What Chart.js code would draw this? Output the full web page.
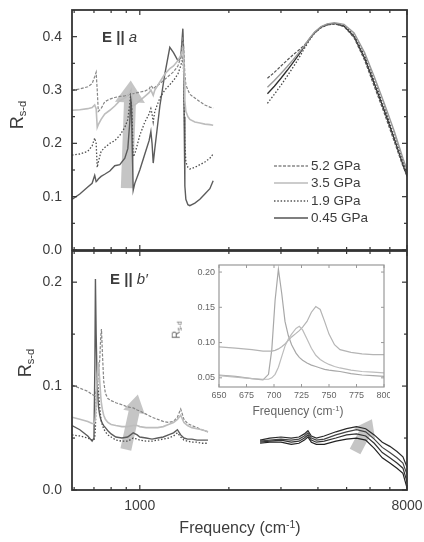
<!DOCTYPE html>
<html><head><meta charset="utf-8">
<script src="https://cdn.jsdelivr.net/npm/chart.js@4.4.1/dist/chart.umd.min.js"></script>
<style>
html,body{margin:0;padding:0;background:#fff;}
#wrap{position:relative;width:424px;height:542px;overflow:hidden;font-family:"Liberation Sans",Arial,sans-serif;color:#3c3c3c;}
canvas{position:absolute;}
.t{position:absolute;white-space:nowrap;line-height:1;}
.rot{transform:translate(-50%,-50%) rotate(-90deg);}
.leg{position:absolute;left:274px;width:120px;height:14px;white-space:nowrap;}
.leg svg{position:absolute;left:0;top:4px;}
.leg span{position:absolute;left:37px;top:0;font-size:13.5px;line-height:14px;white-space:nowrap;}
sub{font-size:62%;vertical-align:-0.25em;}
sup{font-size:65%;vertical-align:0.55em;}
</style></head>
<body><div id="wrap">
<canvas id="cTop" width="424" height="262" style="left:0px;top:0px"></canvas>
<canvas id="cBot" width="424" height="297" style="left:0px;top:245px"></canvas>
<canvas id="cIn" width="225" height="165" style="left:165px;top:258px"></canvas>

<div class="t rot" style="left:18px;top:115px;font-size:18px;">R<sub>s-d</sub></div>
<div class="t rot" style="left:26px;top:363px;font-size:18px;">R<sub>s-d</sub></div>
<div class="t" style="left:102px;top:29px;font-size:15px;"><b>E</b> <b>||</b> <i>a</i></div>
<div class="t" style="left:110px;top:271px;font-size:15px;"><b>E</b> <b>||</b> <i>b′</i></div>
<div class="t" style="left:240px;top:528px;font-size:16px;transform:translate(-50%,-50%);">Frequency (cm<sup>-1</sup>)</div>
<div class="t" style="left:298px;top:411px;font-size:12px;transform:translate(-50%,-50%);color:#666;">Frequency (cm<sup>-1</sup>)</div>
<div class="t rot" style="left:177px;top:330px;font-size:11px;color:#666;">R<sub>s-d</sub></div>

<div class="leg" style="top:159px"><svg width="34" height="6"><line x1="0" y1="3" x2="34" y2="3" stroke="#888" stroke-width="1.3" stroke-dasharray="3,1.5"/></svg><span>5.2 GPa</span></div>
<div class="leg" style="top:176px"><svg width="34" height="6"><line x1="0" y1="3" x2="34" y2="3" stroke="#bbb" stroke-width="1.7"/></svg><span>3.5 GPa</span></div>
<div class="leg" style="top:194px"><svg width="34" height="6"><line x1="0" y1="3" x2="34" y2="3" stroke="#555" stroke-width="1.3" stroke-dasharray="1.5,1.8"/></svg><span>1.9 GPa</span></div>
<div class="leg" style="top:211px"><svg width="34" height="6"><line x1="0" y1="3" x2="34" y2="3" stroke="#555" stroke-width="1.6"/></svg><span>0.45 GPa</span></div>
</div>
<script>
// ---------------- DATA ----------------
const topLowFreq = [590,627,667,690,704,712,718,724,740,761,792,823,856,890,911,925,935,942,950,962,1000,1040,1075,1090,1100,1110,1124,1169,1215,1263,1300,1345,1375,1398,1405,1412,1420,1431,1454,1476,1535,1596,1659,1725,1770];
const topLow045 = [0.095,0.105,0.118,0.125,0.140,0.128,0.130,0.133,0.138,0.142,0.148,0.158,0.160,0.172,0.190,0.240,0.300,0.200,0.112,0.125,0.150,0.180,0.205,0.222,0.200,0.163,0.190,0.270,0.330,0.380,0.370,0.355,0.360,0.415,0.380,0.250,0.120,0.095,0.085,0.083,0.088,0.095,0.105,0.115,0.130];
const topLow19 = [0.178,0.180,0.185,0.195,0.210,0.200,0.155,0.165,0.185,0.192,0.200,0.205,0.215,0.230,0.245,0.275,0.300,0.250,0.175,0.180,0.215,0.240,0.255,0.265,0.255,0.240,0.260,0.285,0.300,0.310,0.318,0.330,0.345,0.360,0.340,0.280,0.200,0.165,0.155,0.152,0.155,0.160,0.165,0.172,0.180];
const topLow35 = [0.262,0.263,0.265,0.267,0.272,0.265,0.230,0.235,0.245,0.255,0.262,0.270,0.280,0.285,0.290,0.295,0.300,0.285,0.270,0.272,0.280,0.288,0.295,0.300,0.295,0.290,0.300,0.315,0.330,0.340,0.345,0.355,0.365,0.375,0.360,0.320,0.280,0.260,0.250,0.245,0.240,0.238,0.236,0.235,0.234];
const topLow52 = [0.299,0.302,0.306,0.312,0.325,0.333,0.300,0.260,0.265,0.278,0.283,0.286,0.288,0.289,0.290,0.292,0.293,0.293,0.293,0.294,0.296,0.298,0.302,0.308,0.306,0.302,0.305,0.312,0.320,0.328,0.334,0.345,0.360,0.400,0.385,0.360,0.330,0.310,0.300,0.292,0.285,0.278,0.272,0.268,0.266];

const topHighFreq = [2700,2850,3000,3150,3300,3450,3600,3750,3900,4100,4300,4550,4900,5300,5750,6200,6700,7250,7750,8000];
const topHigh045 = [0.293,0.307,0.322,0.337,0.352,0.367,0.382,0.396,0.408,0.418,0.423,0.425,0.420,0.400,0.360,0.312,0.262,0.208,0.160,0.138];
const topHigh19 = [0.275,0.292,0.309,0.326,0.343,0.360,0.378,0.394,0.407,0.417,0.422,0.424,0.421,0.403,0.365,0.318,0.268,0.214,0.166,0.145];
const topHigh35 = [0.305,0.318,0.331,0.344,0.357,0.370,0.383,0.397,0.409,0.419,0.424,0.426,0.423,0.407,0.370,0.325,0.275,0.222,0.172,0.150];
const topHigh52 = [0.322,0.333,0.345,0.356,0.366,0.375,0.384,0.396,0.407,0.417,0.422,0.424,0.419,0.398,0.356,0.307,0.257,0.203,0.157,0.140];

const botLowFreq = [590,627,667,690,700,705,708,712,718,725,732,738,742,748,755,765,780,800,830,870,910,950,980,1000,1050,1100,1150,1200,1250,1300,1340,1375,1410,1450,1500,1560,1620,1700];
const botLow045 = [0.062,0.058,0.052,0.047,0.050,0.120,0.203,0.150,0.100,0.080,0.072,0.068,0.066,0.064,0.062,0.060,0.057,0.054,0.051,0.050,0.051,0.055,0.053,0.051,0.050,0.049,0.050,0.051,0.053,0.055,0.058,0.053,0.050,0.049,0.049,0.048,0.048,0.048];
const botLow19 = [0.053,0.052,0.050,0.048,0.048,0.052,0.060,0.090,0.110,0.095,0.080,0.070,0.066,0.062,0.059,0.056,0.053,0.051,0.048,0.047,0.047,0.050,0.049,0.048,0.047,0.047,0.048,0.049,0.050,0.052,0.055,0.051,0.048,0.047,0.046,0.046,0.045,0.045];
const botLow35 = [0.070,0.068,0.066,0.064,0.064,0.066,0.070,0.085,0.110,0.123,0.105,0.090,0.083,0.077,0.072,0.068,0.065,0.063,0.062,0.061,0.061,0.062,0.062,0.061,0.060,0.060,0.060,0.061,0.063,0.065,0.068,0.072,0.065,0.062,0.060,0.059,0.058,0.056];
const botLow52 = [0.101,0.098,0.095,0.092,0.091,0.091,0.092,0.095,0.100,0.112,0.125,0.148,0.155,0.130,0.105,0.093,0.088,0.086,0.084,0.082,0.080,0.079,0.077,0.076,0.073,0.070,0.068,0.066,0.065,0.066,0.070,0.078,0.068,0.064,0.062,0.060,0.058,0.056];

const botHighFreq = [2550,2750,3000,3250,3450,3600,3700,3800,3950,4200,4600,5000,5400,5800,6200,6600,7000,7400,7750,8000];
const botHighA = [0.048,0.050,0.051,0.050,0.051,0.054,0.057,0.052,0.050,0.052,0.056,0.059,0.061,0.059,0.053,0.046,0.042,0.037,0.032,0.022];
const botHighB = [0.047,0.048,0.049,0.048,0.049,0.052,0.055,0.050,0.048,0.049,0.053,0.056,0.058,0.056,0.049,0.041,0.036,0.031,0.026,0.015];
const botHighC = [0.046,0.047,0.048,0.046,0.047,0.050,0.053,0.048,0.046,0.047,0.050,0.053,0.054,0.052,0.045,0.036,0.031,0.026,0.021,0.008];
const botHighD = [0.045,0.046,0.046,0.044,0.045,0.048,0.051,0.046,0.044,0.044,0.047,0.049,0.050,0.048,0.040,0.031,0.026,0.021,0.016,0.002];

const insetFreq = [650,665,680,690,695,698,701,704,707,710,713,716,720,723,726,730,734,738,742,746,750,755,760,770,780,790,800];
const insetA = [0.054,0.052,0.049,0.047,0.055,0.090,0.160,0.204,0.170,0.130,0.110,0.097,0.085,0.079,0.075,0.071,0.068,0.066,0.064,0.062,0.061,0.060,0.059,0.056,0.054,0.053,0.052];
const insetB = [0.094,0.092,0.090,0.088,0.088,0.088,0.089,0.091,0.094,0.098,0.103,0.108,0.113,0.117,0.122,0.130,0.143,0.151,0.147,0.130,0.112,0.097,0.090,0.086,0.084,0.083,0.083];
const insetC = [0.053,0.051,0.049,0.048,0.048,0.050,0.055,0.065,0.080,0.095,0.105,0.112,0.120,0.123,0.118,0.105,0.092,0.082,0.076,0.072,0.069,0.066,0.064,0.061,0.059,0.058,0.057];

const xLabelTicks = [1000, 8000];
const xMinorTicks = [600,700,800,900,2000,3000,4000,5000,6000,7000];
const yTopTicks = [0, 0.1, 0.2, 0.3, 0.4];
const yTopMinor = [0.05, 0.15, 0.25, 0.35];
const yBotTicks = [0, 0.1, 0.2];
const yBotMinor = [0.05, 0.15];
const insetXTicks = [650, 675, 700, 725, 750, 775, 800];
const insetYTicks = [0.05, 0.10, 0.15, 0.20];

// arrow annotations (data units: [frequency, R])
const arrowTop = {from:[904, 0.116], to:[932, 0.318]};
const arrowBotLeft = {from:[897, 0.039], to:[985, 0.092]};
const arrowBotRight = {from:[5340, 0.037], to:[6090, 0.068]};

// ---------------- RENDER ----------------
Chart.defaults.font.family = '"Liberation Sans", Arial, sans-serif';
Chart.defaults.color = '#3c3c3c';

const pts = (f, v) => f.map((x, i) => ({x: x, y: v[i]}));
const ST = {
  p045: {borderColor:'#5c5c5c', borderWidth:1.4},
  p19:  {borderColor:'#4e4e4e', borderWidth:1.3, borderDash:[1.5,1.8]},
  p35:  {borderColor:'#bdbdbd', borderWidth:1.6},
  p52:  {borderColor:'#868686', borderWidth:1.2, borderDash:[3,1.5]},
  h045: {borderColor:'#2e2e2e', borderWidth:1.3},
  h19:  {borderColor:'#444', borderWidth:1.3, borderDash:[1.5,1.8]},
  h35:  {borderColor:'#9a9a9a', borderWidth:1.4},
  h52:  {borderColor:'#555', borderWidth:1.2, borderDash:[3,1.5]},
  dk1:  {borderColor:'#2a2a2a', borderWidth:1.2},
  dk2:  {borderColor:'#444', borderWidth:1.2},
  dk3:  {borderColor:'#333', borderWidth:1.2},
  dk4:  {borderColor:'#222', borderWidth:1.2},
  in1:  {borderColor:'#a8a8a8', borderWidth:1.2},
  in2:  {borderColor:'#b4b4b4', borderWidth:1.2},
  in3:  {borderColor:'#bcbcbc', borderWidth:1.2}
};
const ds = (f, v, s) => Object.assign({data: pts(f, v), pointRadius:0, tension:0, fill:false, spanGaps:false}, s);

const zeroPad = s => { s.paddingLeft = 0; s.paddingRight = 0; s.paddingTop = 0; s.paddingBottom = 0; };

const deco = {
  id: 'deco',
  beforeDatasetsDraw(chart, args, o) {
    const {ctx, chartArea: a, scales} = chart;
    ctx.save();
    if (o.bg) { ctx.fillStyle = o.bg; ctx.fillRect(a.left, a.top, a.width, a.height); }
    (o.arrows || []).forEach(ar => {
      const x0 = scales.x.getPixelForValue(ar.from[0]), y0 = scales.y.getPixelForValue(ar.from[1]);
      const x1 = scales.x.getPixelForValue(ar.to[0]), y1 = scales.y.getPixelForValue(ar.to[1]);
      const dx = x1 - x0, dy = y1 - y0, L = Math.hypot(dx, dy), ux = dx / L, uy = dy / L, nx = -uy, ny = ux;
      const hw = ar.head / 2, sw = ar.shaft / 2, hl = ar.headLen;
      const bx = x1 - ux * hl, by = y1 - uy * hl;
      ctx.beginPath();
      ctx.moveTo(x0 + nx * sw, y0 + ny * sw);
      ctx.lineTo(bx + nx * sw, by + ny * sw);
      ctx.lineTo(bx + nx * hw, by + ny * hw);
      ctx.lineTo(x1, y1);
      ctx.lineTo(bx - nx * hw, by - ny * hw);
      ctx.lineTo(bx - nx * sw, by - ny * sw);
      ctx.lineTo(x0 - nx * sw, y0 - ny * sw);
      ctx.closePath();
      ctx.fillStyle = o.arrowColor;
      ctx.fill();
    });
    ctx.restore();
  },
  afterDatasetsDraw(chart, args, o) {
    const {ctx, chartArea: a, scales} = chart;
    ctx.save();
    ctx.strokeStyle = o.color;
    ctx.lineWidth = o.tickWidth;
    const line = (x0, y0, x1, y1) => { ctx.beginPath(); ctx.moveTo(x0, y0); ctx.lineTo(x1, y1); ctx.stroke(); };
    const xt = (vals, len) => (vals || []).forEach(v => { const p = scales.x.getPixelForValue(v); line(p, a.top, p, a.top + len); line(p, a.bottom, p, a.bottom - len); });
    const yt = (vals, len) => (vals || []).forEach(v => { const p = scales.y.getPixelForValue(v); line(a.left, p, a.left + len, p); line(a.right, p, a.right - len, p); });
    xt(o.xMajor, o.majLen); xt(o.xMinor, o.minLen);
    yt(o.yMajor, o.majLen); yt(o.yMinor, o.minLen);
    ctx.lineWidth = o.frameWidth;
    ctx.strokeRect(a.left, a.top, a.width, a.height);
    ctx.restore();
  }
};

const baseOpts = {
  responsive: false, animation: false, devicePixelRatio: 1,
  events: []
};

// Top panel
new Chart(document.getElementById('cTop'), {
  type: 'line',
  data: {datasets: [
    ds(topLowFreq, topLow35, ST.p35), ds(topLowFreq, topLow52, ST.p52), ds(topLowFreq, topLow19, ST.p19), ds(topLowFreq, topLow045, ST.p045),
    ds(topHighFreq, topHigh35, ST.h35), ds(topHighFreq, topHigh52, ST.h52), ds(topHighFreq, topHigh19, ST.h19), ds(topHighFreq, topHigh045, ST.h045)
  ]},
  options: Object.assign({}, baseOpts, {
    layout: {padding: {left: 0, right: 17, top: 10, bottom: 12}},
    plugins: {legend: {display: false}, tooltip: {enabled: false},
      deco: {color:'#333', tickWidth:1.2, frameWidth:1.8, majLen:5, minLen:3,
        xMajor: xLabelTicks, xMinor: xMinorTicks, yMajor: yTopTicks, yMinor: yTopMinor,
        arrowColor: 'rgba(150,150,150,0.55)',
        arrows: [Object.assign({head:30, shaft:12, headLen:22}, arrowTop)]}},
    scales: {
      x: {type: 'logarithmic', min: 590, max: 8000, display: false},
      y: {type: 'linear', min: 0, max: 0.45,
        afterBuildTicks: s => { s.ticks = yTopTicks.map(v => ({value: v})); },
        afterFit: s => { s.width = 72; zeroPad(s); },
        grid: {display: false, drawTicks: false}, border: {display: false},
        ticks: {padding: 10, font: {size: 14}, color: '#3c3c3c', callback: v => Number(v).toFixed(1)}}
    }
  }),
  plugins: [deco]
});

// Bottom panel
new Chart(document.getElementById('cBot'), {
  type: 'line',
  data: {datasets: [
    ds(botLowFreq, botLow35, ST.p35), ds(botLowFreq, botLow52, ST.p52), ds(botLowFreq, botLow19, ST.p19), ds(botLowFreq, botLow045, ST.p045),
    ds(botHighFreq, botHighA, ST.dk1), ds(botHighFreq, botHighB, ST.dk2), ds(botHighFreq, botHighC, ST.dk3), ds(botHighFreq, botHighD, ST.dk4)
  ]},
  options: Object.assign({}, baseOpts, {
    layout: {padding: {left: 0, right: 17, top: 6, bottom: 0}},
    plugins: {legend: {display: false}, tooltip: {enabled: false},
      deco: {color:'#333', tickWidth:1.2, frameWidth:1.8, majLen:5, minLen:3,
        xMajor: xLabelTicks, xMinor: xMinorTicks, yMajor: yBotTicks, yMinor: yBotMinor,
        arrowColor: 'rgba(150,150,150,0.55)',
        arrows: [Object.assign({head:22, shaft:11, headLen:18}, arrowBotLeft),
                 Object.assign({head:24, shaft:12, headLen:16}, arrowBotRight)]}},
    scales: {
      x: {type: 'logarithmic', min: 590, max: 8000, position: 'bottom',
        afterBuildTicks: s => { s.ticks = xLabelTicks.map(v => ({value: v})); },
        afterFit: s => { s.height = 52; zeroPad(s); },
        grid: {display: false, drawTicks: false}, border: {display: false},
        ticks: {padding: 8, autoSkip: false, maxRotation: 0, font: {size: 14}, color: '#3c3c3c', callback: v => String(v)}},
      y: {type: 'linear', min: 0, max: 0.23,
        afterBuildTicks: s => { s.ticks = yBotTicks.map(v => ({value: v})); },
        afterFit: s => { s.width = 72; zeroPad(s); },
        grid: {display: false, drawTicks: false}, border: {display: false},
        ticks: {padding: 10, font: {size: 14}, color: '#3c3c3c', callback: v => Number(v).toFixed(1)}}
    }
  }),
  plugins: [deco]
});

// Inset
new Chart(document.getElementById('cIn'), {
  type: 'line',
  data: {datasets: [
    ds(insetFreq, insetC, ST.in3), ds(insetFreq, insetB, ST.in2), ds(insetFreq, insetA, ST.in1)
  ]},
  options: Object.assign({}, baseOpts, {
    layout: {padding: {left: 0, right: 6, top: 7, bottom: 0}},
    plugins: {legend: {display: false}, tooltip: {enabled: false},
      deco: {bg:'#fff', color:'#999', tickWidth:1, frameWidth:1.2, majLen:3, minLen:2,
        xMajor: insetXTicks, yMajor: insetYTicks, arrows: []}},
    scales: {
      x: {type: 'linear', min: 650, max: 800,
        afterBuildTicks: s => { s.ticks = insetXTicks.map(v => ({value: v})); },
        afterFit: s => { s.height = 36; zeroPad(s); },
        grid: {display: false, drawTicks: false}, border: {display: false},
        ticks: {padding: 3, autoSkip: false, maxRotation: 0, font: {size: 9}, color: '#666', callback: v => String(v)}},
      y: {type: 'linear', min: 0.037, max: 0.21,
        afterBuildTicks: s => { s.ticks = insetYTicks.map(v => ({value: v})); },
        afterFit: s => { s.width = 54; zeroPad(s); },
        grid: {display: false, drawTicks: false}, border: {display: false},
        ticks: {padding: 4, font: {size: 9}, color: '#666', callback: v => Number(v).toFixed(2)}}
    }
  }),
  plugins: [deco]
});
</script>
</body></html>
